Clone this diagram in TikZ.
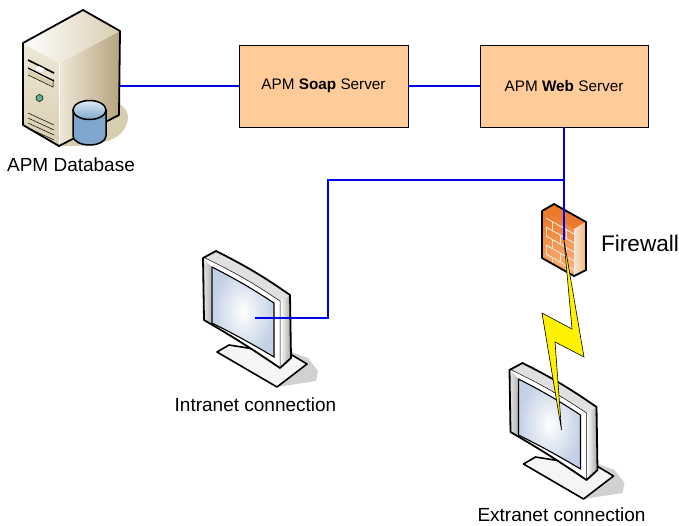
\documentclass[tikz,border=0pt]{standalone}
\usepackage{fontspec}
\setmainfont{Liberation Sans}
\usepackage{tikz}
\usetikzlibrary{positioning,calc}

\definecolor{boxfill}{HTML}{FFCC99}
\definecolor{wireblue}{HTML}{0000F0}
\definecolor{screenblue}{HTML}{C3D1E6}
\definecolor{tan1}{HTML}{EFE8D8}
\definecolor{tan2}{HTML}{B7A47F}
\definecolor{tan3}{HTML}{D9CDB0}
\definecolor{dbside}{HTML}{7FA6CC}
\definecolor{dbtop}{HTML}{DCEBF5}
\definecolor{dbled}{HTML}{5FB08F}
\definecolor{fireA}{HTML}{EC7A2C}
\definecolor{fireB}{HTML}{F9B27A}

\tikzset{
  serverbox/.style={draw=black,fill=boxfill,minimum width=168.5pt,minimum height=82pt,inner sep=0pt,font=\fontsize{15.3}{18}\selectfont},
  wire/.style={draw=wireblue,line width=2pt},
  caption/.style={inner sep=0pt,font=\fontsize{19}{22}\selectfont},
  outline/.style={draw=black,line width=1.8pt,line join=round},
  brick/.style={draw=tan1,line width=.9pt},
  monitor/.pic={
    % shadow and foot
    \fill[black!18] (292,352) -- (308,358) -- (318,371) -- (316,381) -- (277,387) -- cycle;
    \draw[black,fill=black!4,line width=1.6pt,line join=round] (217,352) -- (229,345) -- (292,355) -- (307,364) -- (277,387) -- cycle;
    % cabinet
    \shade[left color=white,right color=black!35] (280,301) -- (290,295) -- (291,358) -- (280,368) -- cycle;
    \fill[black!12] (203,258) -- (216,251) to[bend left=4] (290,295) -- (280,301) to[bend right=4] cycle;
    \fill[white] (205,258) to[bend left=4] (280,301) -- (280,367) to[bend right=2] (205,320) -- cycle;
    \shade[left color=black!12,right color=black!30] (204,259) -- (211,266) -- (212,323) -- (204,320) -- cycle;
    \shade[inner color=white,outer color=screenblue,draw=black,line width=1.1pt] (212,267) to[bend left=3] (274,303) -- (274,357) to[bend right=2] (212,323) -- cycle;
    \draw[black,line width=.5pt] (205,258) to[bend left=4] (280,301) -- (280,367);
    \draw[outline] (203,258) -- (216,251) to[bend left=4] (290,295) -- (291,358) -- (280,368) to[bend right=2] (204,320) -- cycle;
  }
}

\begin{document}
\begin{tikzpicture}[x=1pt,y=-1pt]

  \useasboundingbox (0,0) rectangle (679,525);

  \node[serverbox] (soap) at (323.5,86) {APM \textbf{Soap} Server};
  \node[serverbox] (web) at (564,86) {APM \textbf{Web} Server};

  \coordinate (dbport) at (120,86);
  \coordinate (branch) at (564,180);
  \coordinate (bend1) at (328,180);
  \coordinate (bend2) at (328,318);
  \coordinate (intranetport) at (255,318);
  \coordinate (fwport) at (564,240);
  \coordinate (extranetport) at (561.5,430);

  % database host
  \fill[tan3] (118,104) .. controls (130,108) and (131,122) .. (122,132) .. controls (112,144) and (85,147) .. (62,146) -- cycle;
  \shade[top color=tan1,bottom color=tan3] (23,43) -- (59,63) -- (59,146) -- (23,125) -- cycle;
  \shade[left color=tan1,right color=tan2] (59,63) -- (120,31) -- (119,115) -- (59,146) -- cycle;
  \shade[left color=white,right color=tan3] (23,43) -- (83,10) -- (120,31) -- (59,63) -- cycle;
  \draw[white,line width=.8pt] (59,63) -- (59,146);
  \draw[black,line width=1.7pt] (28,60) -- (54,73);
  \fill[tan3] (28,70) -- (54,83) -- (54,88) -- (28,75) -- cycle;
  \draw[black,line width=1.3pt] (28,68) -- (54,81);
  \draw[black,line width=.5pt] (28,75) -- (53,87) -- (53,79);
  \fill[white] (39,66) -- (45,69) -- (41,72) -- (35,69) -- cycle;
  \draw[black,line width=.5pt,fill=dbled] (39.5,98) circle (3.5pt);
  \foreach \vy in {113,118,123,128}
    \draw[black,line width=.5pt] (28,\vy) -- (54,\vy+12);
  \draw[outline] (23,43) -- (83,10) -- (120,31) -- (119,115) -- (59,146) -- (23,125) -- cycle;
  \shade[left color=dbside,middle color=white,right color=dbside,draw=black,line width=1.5pt] (73,110) -- (73,136) arc[x radius=16.5pt,y radius=9pt,start angle=180,end angle=360] -- (106,110) -- cycle;
  \shade[top color=dbtop,bottom color=dbside,draw=black,line width=1.5pt] (89.5,110) ellipse [x radius=16.5pt,y radius=9.5pt];

  \node[caption] (dblabel) at (71,165) {APM Database};

  % two screens
  \pic (intranet) at (0,0) {monitor};
  \node[caption] (intranetlabel) at (255.5,405) {Intranet connection};
  \pic (extranet) at (306.5,112) {monitor};
  \node[caption] (extranetlabel) at (561.5,515) {Extranet connection};

  % firewall
  \shade[top color=fireA,bottom color=fireB,shading angle=20] (542,211) -- (574,229) -- (574,276) -- (542,258) -- cycle;
  \fill[fireA] (542,211) -- (554,204) -- (586,222) -- (574,229) -- cycle;
  \shade[left color=tan1,right color=fireB] (574,229) -- (586,222) -- (586,270) -- (574,276) -- cycle;
  \foreach \by in {0,9,18,27,36}
    \draw[brick] (546,218+\by) -- (574,234+\by);
  \foreach \bx/\by in {552/221,566/229,546/227,560/235,552/239,566/247,546/245,560/253,552/257,566/265}
    \draw[brick] (\bx,\by) -- (\bx,\by+9);
  \draw[outline] (542,211) -- (554,204) -- (586,222) -- (586,270) -- (574,276) -- (542,258) -- cycle;

  \node[inner sep=0pt,font=\fontsize{22.6}{26}\selectfont] (fwlabel) at (640,243) {Firewall};

  % bolt
  \draw[black,fill=yellow,line width=.6pt,line join=miter] (fwport) -- (572,329) -- (542,313) -- (extranetport) -- (555,342) -- (584,357) -- cycle;

  \draw[wire] (dbport) -- (soap.west);
  \draw[wire] (soap.east) -- (web.west);
  \draw[wire] (web.south) -- (fwport);
  \draw[wire] (branch) -- (bend1) -- (bend2) -- (intranetport);

\end{tikzpicture}
\end{document}
